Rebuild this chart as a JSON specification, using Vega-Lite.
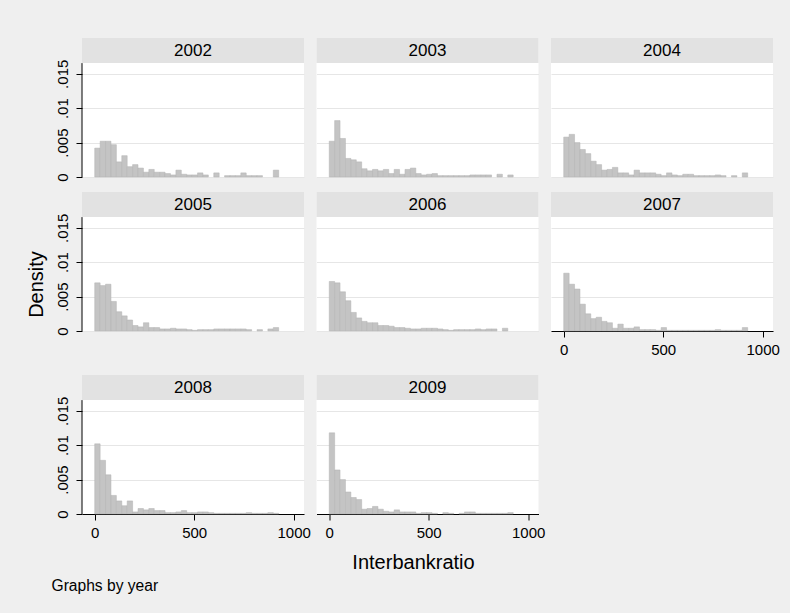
{
"$schema":"https://vega.github.io/schema/vega-lite/v6.json",
"background":"#efefef",
"padding":{"left":26,"top":38,"right":10,"bottom":19},
"config":{"font":"Liberation Sans","view":{"stroke":null,"fill":"white"},"axis":{"labelColor":"#000","tickColor":"#000","domainColor":"#000","titleColor":"#000","titleFontWeight":"normal","gridColor":"#e6e6e6","labelFlush":false}},
"datasets":{"hist":[
{"year":2002,"lo":0,"hi":27.2,"density":0.0042},{"year":2002,"lo":27.2,"hi":54.4,"density":0.0052},{"year":2002,"lo":54.4,"hi":81.6,"density":0.0052},{"year":2002,"lo":81.6,"hi":108.8,"density":0.0047},{"year":2002,"lo":108.8,"hi":136,"density":0.0022},{"year":2002,"lo":136,"hi":163.2,"density":0.0031},{"year":2002,"lo":163.2,"hi":190.4,"density":0.0015},{"year":2002,"lo":190.4,"hi":217.6,"density":0.0018},{"year":2002,"lo":217.6,"hi":244.8,"density":0.0013},{"year":2002,"lo":244.8,"hi":272,"density":0.0007},{"year":2002,"lo":272,"hi":299.2,"density":0.0011},{"year":2002,"lo":299.2,"hi":326.4,"density":0.0007},{"year":2002,"lo":326.4,"hi":353.6,"density":0.0007},{"year":2002,"lo":353.6,"hi":380.8,"density":0.0005},{"year":2002,"lo":380.8,"hi":408,"density":0.0003},{"year":2002,"lo":408,"hi":435.2,"density":0.0010},{"year":2002,"lo":435.2,"hi":462.4,"density":0.0004},{"year":2002,"lo":462.4,"hi":489.6,"density":0.0003},{"year":2002,"lo":489.6,"hi":516.8,"density":0.0003},{"year":2002,"lo":516.8,"hi":544,"density":0.0006},{"year":2002,"lo":544,"hi":571.2,"density":0.0003},{"year":2002,"lo":598.4,"hi":625.6,"density":0.0006},{"year":2002,"lo":652.8,"hi":680,"density":0.0002},{"year":2002,"lo":680,"hi":707.2,"density":0.0002},{"year":2002,"lo":707.2,"hi":734.4,"density":0.0002},{"year":2002,"lo":734.4,"hi":761.6,"density":0.0006},{"year":2002,"lo":761.6,"hi":788.8,"density":0.0002},{"year":2002,"lo":788.8,"hi":816,"density":0.0002},{"year":2002,"lo":816,"hi":843.2,"density":0.0002},{"year":2002,"lo":897.6,"hi":924.8,"density":0.0010},
{"year":2003,"lo":0,"hi":27.2,"density":0.0052},{"year":2003,"lo":27.2,"hi":54.4,"density":0.0082},{"year":2003,"lo":54.4,"hi":81.6,"density":0.0056},{"year":2003,"lo":81.6,"hi":108.8,"density":0.0027},{"year":2003,"lo":108.8,"hi":136,"density":0.0025},{"year":2003,"lo":136,"hi":163.2,"density":0.0022},{"year":2003,"lo":163.2,"hi":190.4,"density":0.0012},{"year":2003,"lo":190.4,"hi":217.6,"density":0.0009},{"year":2003,"lo":217.6,"hi":244.8,"density":0.0011},{"year":2003,"lo":244.8,"hi":272,"density":0.0009},{"year":2003,"lo":272,"hi":299.2,"density":0.0011},{"year":2003,"lo":299.2,"hi":326.4,"density":0.0005},{"year":2003,"lo":326.4,"hi":353.6,"density":0.0011},{"year":2003,"lo":353.6,"hi":380.8,"density":0.0004},{"year":2003,"lo":380.8,"hi":408,"density":0.0011},{"year":2003,"lo":408,"hi":435.2,"density":0.0013},{"year":2003,"lo":435.2,"hi":462.4,"density":0.0005},{"year":2003,"lo":462.4,"hi":489.6,"density":0.0003},{"year":2003,"lo":489.6,"hi":516.8,"density":0.0004},{"year":2003,"lo":516.8,"hi":544,"density":0.0005},{"year":2003,"lo":544,"hi":571.2,"density":0.0002},{"year":2003,"lo":571.2,"hi":598.4,"density":0.0002},{"year":2003,"lo":598.4,"hi":625.6,"density":0.0002},{"year":2003,"lo":625.6,"hi":652.8,"density":0.0002},{"year":2003,"lo":652.8,"hi":680,"density":0.0002},{"year":2003,"lo":680,"hi":707.2,"density":0.0002},{"year":2003,"lo":707.2,"hi":734.4,"density":0.0003},{"year":2003,"lo":734.4,"hi":761.6,"density":0.0003},{"year":2003,"lo":761.6,"hi":788.8,"density":0.0003},{"year":2003,"lo":788.8,"hi":816,"density":0.0003},{"year":2003,"lo":843.2,"hi":870.4,"density":0.0004},{"year":2003,"lo":897.6,"hi":924.8,"density":0.0003},
{"year":2004,"lo":0,"hi":27.2,"density":0.0058},{"year":2004,"lo":27.2,"hi":54.4,"density":0.0062},{"year":2004,"lo":54.4,"hi":81.6,"density":0.0050},{"year":2004,"lo":81.6,"hi":108.8,"density":0.0040},{"year":2004,"lo":108.8,"hi":136,"density":0.0034},{"year":2004,"lo":136,"hi":163.2,"density":0.0023},{"year":2004,"lo":163.2,"hi":190.4,"density":0.0018},{"year":2004,"lo":190.4,"hi":217.6,"density":0.0010},{"year":2004,"lo":217.6,"hi":244.8,"density":0.0011},{"year":2004,"lo":244.8,"hi":272,"density":0.0014},{"year":2004,"lo":272,"hi":299.2,"density":0.0006},{"year":2004,"lo":299.2,"hi":326.4,"density":0.0006},{"year":2004,"lo":326.4,"hi":353.6,"density":0.0003},{"year":2004,"lo":353.6,"hi":380.8,"density":0.0010},{"year":2004,"lo":380.8,"hi":408,"density":0.0006},{"year":2004,"lo":408,"hi":435.2,"density":0.0006},{"year":2004,"lo":435.2,"hi":462.4,"density":0.0006},{"year":2004,"lo":462.4,"hi":489.6,"density":0.0004},{"year":2004,"lo":489.6,"hi":516.8,"density":0.0002},{"year":2004,"lo":516.8,"hi":544,"density":0.0006},{"year":2004,"lo":544,"hi":571.2,"density":0.0003},{"year":2004,"lo":571.2,"hi":598.4,"density":0.0002},{"year":2004,"lo":598.4,"hi":625.6,"density":0.0004},{"year":2004,"lo":625.6,"hi":652.8,"density":0.0004},{"year":2004,"lo":652.8,"hi":680,"density":0.0002},{"year":2004,"lo":680,"hi":707.2,"density":0.0002},{"year":2004,"lo":707.2,"hi":734.4,"density":0.0002},{"year":2004,"lo":734.4,"hi":761.6,"density":0.0002},{"year":2004,"lo":761.6,"hi":788.8,"density":0.0003},{"year":2004,"lo":788.8,"hi":816,"density":0.0002},{"year":2004,"lo":843.2,"hi":870.4,"density":0.0002},{"year":2004,"lo":897.6,"hi":924.8,"density":0.0006},
{"year":2005,"lo":0,"hi":27.2,"density":0.0070},{"year":2005,"lo":27.2,"hi":54.4,"density":0.0066},{"year":2005,"lo":54.4,"hi":81.6,"density":0.0068},{"year":2005,"lo":81.6,"hi":108.8,"density":0.0043},{"year":2005,"lo":108.8,"hi":136,"density":0.0028},{"year":2005,"lo":136,"hi":163.2,"density":0.0022},{"year":2005,"lo":163.2,"hi":190.4,"density":0.0016},{"year":2005,"lo":190.4,"hi":217.6,"density":0.0008},{"year":2005,"lo":217.6,"hi":244.8,"density":0.0006},{"year":2005,"lo":244.8,"hi":272,"density":0.0012},{"year":2005,"lo":272,"hi":299.2,"density":0.0005},{"year":2005,"lo":299.2,"hi":326.4,"density":0.0005},{"year":2005,"lo":326.4,"hi":353.6,"density":0.0003},{"year":2005,"lo":353.6,"hi":380.8,"density":0.0003},{"year":2005,"lo":380.8,"hi":408,"density":0.0004},{"year":2005,"lo":408,"hi":435.2,"density":0.0003},{"year":2005,"lo":435.2,"hi":462.4,"density":0.0003},{"year":2005,"lo":462.4,"hi":489.6,"density":0.0002},{"year":2005,"lo":489.6,"hi":516.8,"density":0.0001},{"year":2005,"lo":516.8,"hi":544,"density":0.0002},{"year":2005,"lo":544,"hi":571.2,"density":0.0002},{"year":2005,"lo":571.2,"hi":598.4,"density":0.0002},{"year":2005,"lo":598.4,"hi":625.6,"density":0.0003},{"year":2005,"lo":625.6,"hi":652.8,"density":0.0003},{"year":2005,"lo":652.8,"hi":680,"density":0.0003},{"year":2005,"lo":680,"hi":707.2,"density":0.0003},{"year":2005,"lo":707.2,"hi":734.4,"density":0.0003},{"year":2005,"lo":734.4,"hi":761.6,"density":0.0003},{"year":2005,"lo":761.6,"hi":788.8,"density":0.0002},{"year":2005,"lo":816,"hi":843.2,"density":0.0002},{"year":2005,"lo":870.4,"hi":897.6,"density":0.0003},{"year":2005,"lo":897.6,"hi":924.8,"density":0.0005},
{"year":2006,"lo":0,"hi":27.2,"density":0.0072},{"year":2006,"lo":27.2,"hi":54.4,"density":0.0070},{"year":2006,"lo":54.4,"hi":81.6,"density":0.0057},{"year":2006,"lo":81.6,"hi":108.8,"density":0.0044},{"year":2006,"lo":108.8,"hi":136,"density":0.0027},{"year":2006,"lo":136,"hi":163.2,"density":0.0019},{"year":2006,"lo":163.2,"hi":190.4,"density":0.0014},{"year":2006,"lo":190.4,"hi":217.6,"density":0.0012},{"year":2006,"lo":217.6,"hi":244.8,"density":0.0012},{"year":2006,"lo":244.8,"hi":272,"density":0.0008},{"year":2006,"lo":272,"hi":299.2,"density":0.0008},{"year":2006,"lo":299.2,"hi":326.4,"density":0.0007},{"year":2006,"lo":326.4,"hi":353.6,"density":0.0005},{"year":2006,"lo":353.6,"hi":380.8,"density":0.0005},{"year":2006,"lo":380.8,"hi":408,"density":0.0004},{"year":2006,"lo":408,"hi":435.2,"density":0.0003},{"year":2006,"lo":435.2,"hi":462.4,"density":0.0003},{"year":2006,"lo":462.4,"hi":489.6,"density":0.0004},{"year":2006,"lo":489.6,"hi":516.8,"density":0.0004},{"year":2006,"lo":516.8,"hi":544,"density":0.0004},{"year":2006,"lo":544,"hi":571.2,"density":0.0003},{"year":2006,"lo":571.2,"hi":598.4,"density":0.0002},{"year":2006,"lo":598.4,"hi":625.6,"density":0.0001},{"year":2006,"lo":625.6,"hi":652.8,"density":0.0002},{"year":2006,"lo":652.8,"hi":680,"density":0.0002},{"year":2006,"lo":680,"hi":707.2,"density":0.0002},{"year":2006,"lo":707.2,"hi":734.4,"density":0.0002},{"year":2006,"lo":734.4,"hi":761.6,"density":0.0003},{"year":2006,"lo":761.6,"hi":788.8,"density":0.0002},{"year":2006,"lo":788.8,"hi":816,"density":0.0003},{"year":2006,"lo":816,"hi":843.2,"density":0.0003},{"year":2006,"lo":870.4,"hi":897.6,"density":0.0004},
{"year":2007,"lo":0,"hi":27.2,"density":0.0084},{"year":2007,"lo":27.2,"hi":54.4,"density":0.0068},{"year":2007,"lo":54.4,"hi":81.6,"density":0.0061},{"year":2007,"lo":81.6,"hi":108.8,"density":0.0039},{"year":2007,"lo":108.8,"hi":136,"density":0.0025},{"year":2007,"lo":136,"hi":163.2,"density":0.0018},{"year":2007,"lo":163.2,"hi":190.4,"density":0.0020},{"year":2007,"lo":190.4,"hi":217.6,"density":0.0014},{"year":2007,"lo":217.6,"hi":244.8,"density":0.0012},{"year":2007,"lo":244.8,"hi":272,"density":0.0004},{"year":2007,"lo":272,"hi":299.2,"density":0.0010},{"year":2007,"lo":299.2,"hi":326.4,"density":0.0004},{"year":2007,"lo":326.4,"hi":353.6,"density":0.0004},{"year":2007,"lo":353.6,"hi":380.8,"density":0.0006},{"year":2007,"lo":380.8,"hi":408,"density":0.0002},{"year":2007,"lo":408,"hi":435.2,"density":0.0002},{"year":2007,"lo":435.2,"hi":462.4,"density":0.0002},{"year":2007,"lo":462.4,"hi":489.6,"density":0.0001},{"year":2007,"lo":489.6,"hi":516.8,"density":0.0005},{"year":2007,"lo":516.8,"hi":544,"density":0.0001},{"year":2007,"lo":544,"hi":571.2,"density":0.0001},{"year":2007,"lo":571.2,"hi":598.4,"density":0.0001},{"year":2007,"lo":598.4,"hi":625.6,"density":0.0001},{"year":2007,"lo":625.6,"hi":652.8,"density":0.0001},{"year":2007,"lo":652.8,"hi":680,"density":0.0001},{"year":2007,"lo":680,"hi":707.2,"density":0.0001},{"year":2007,"lo":707.2,"hi":734.4,"density":0.0001},{"year":2007,"lo":734.4,"hi":761.6,"density":0.0001},{"year":2007,"lo":761.6,"hi":788.8,"density":0.0002},{"year":2007,"lo":788.8,"hi":816,"density":0.0001},{"year":2007,"lo":816,"hi":843.2,"density":0.0001},{"year":2007,"lo":843.2,"hi":870.4,"density":0.0001},{"year":2007,"lo":870.4,"hi":897.6,"density":0.0001},{"year":2007,"lo":897.6,"hi":924.8,"density":0.0005},
{"year":2008,"lo":0,"hi":27.2,"density":0.0102},{"year":2008,"lo":27.2,"hi":54.4,"density":0.0078},{"year":2008,"lo":54.4,"hi":81.6,"density":0.0057},{"year":2008,"lo":81.6,"hi":108.8,"density":0.0027},{"year":2008,"lo":108.8,"hi":136,"density":0.0019},{"year":2008,"lo":136,"hi":163.2,"density":0.0012},{"year":2008,"lo":163.2,"hi":190.4,"density":0.0019},{"year":2008,"lo":190.4,"hi":217.6,"density":0.0003},{"year":2008,"lo":217.6,"hi":244.8,"density":0.0008},{"year":2008,"lo":244.8,"hi":272,"density":0.0006},{"year":2008,"lo":272,"hi":299.2,"density":0.0008},{"year":2008,"lo":299.2,"hi":326.4,"density":0.0005},{"year":2008,"lo":326.4,"hi":353.6,"density":0.0005},{"year":2008,"lo":353.6,"hi":380.8,"density":0.0002},{"year":2008,"lo":380.8,"hi":408,"density":0.0002},{"year":2008,"lo":408,"hi":435.2,"density":0.0003},{"year":2008,"lo":435.2,"hi":462.4,"density":0.0005},{"year":2008,"lo":462.4,"hi":489.6,"density":0.0002},{"year":2008,"lo":489.6,"hi":516.8,"density":0.0002},{"year":2008,"lo":516.8,"hi":544,"density":0.0003},{"year":2008,"lo":544,"hi":571.2,"density":0.0003},{"year":2008,"lo":571.2,"hi":598.4,"density":0.0002},{"year":2008,"lo":598.4,"hi":625.6,"density":0.0001},{"year":2008,"lo":625.6,"hi":652.8,"density":0.0001},{"year":2008,"lo":652.8,"hi":680,"density":0.0001},{"year":2008,"lo":680,"hi":707.2,"density":0.0001},{"year":2008,"lo":707.2,"hi":734.4,"density":0.0001},{"year":2008,"lo":734.4,"hi":761.6,"density":0.0001},{"year":2008,"lo":761.6,"hi":788.8,"density":0.0002},{"year":2008,"lo":788.8,"hi":816,"density":0.0001},{"year":2008,"lo":816,"hi":843.2,"density":0.0001},{"year":2008,"lo":843.2,"hi":870.4,"density":0.0001},{"year":2008,"lo":870.4,"hi":897.6,"density":0.0002},{"year":2008,"lo":897.6,"hi":924.8,"density":0.0001},
{"year":2009,"lo":0,"hi":27.2,"density":0.0118},{"year":2009,"lo":27.2,"hi":54.4,"density":0.0064},{"year":2009,"lo":54.4,"hi":81.6,"density":0.0050},{"year":2009,"lo":81.6,"hi":108.8,"density":0.0032},{"year":2009,"lo":108.8,"hi":136,"density":0.0024},{"year":2009,"lo":136,"hi":163.2,"density":0.0021},{"year":2009,"lo":163.2,"hi":190.4,"density":0.0007},{"year":2009,"lo":190.4,"hi":217.6,"density":0.0008},{"year":2009,"lo":217.6,"hi":244.8,"density":0.0011},{"year":2009,"lo":244.8,"hi":272,"density":0.0007},{"year":2009,"lo":272,"hi":299.2,"density":0.0004},{"year":2009,"lo":299.2,"hi":326.4,"density":0.0003},{"year":2009,"lo":326.4,"hi":353.6,"density":0.0006},{"year":2009,"lo":353.6,"hi":380.8,"density":0.0003},{"year":2009,"lo":380.8,"hi":408,"density":0.0003},{"year":2009,"lo":408,"hi":435.2,"density":0.0003},{"year":2009,"lo":435.2,"hi":462.4,"density":0.0001},{"year":2009,"lo":462.4,"hi":489.6,"density":0.0002},{"year":2009,"lo":489.6,"hi":516.8,"density":0.0002},{"year":2009,"lo":516.8,"hi":544,"density":0.0001},{"year":2009,"lo":571.2,"hi":598.4,"density":0.0002},{"year":2009,"lo":598.4,"hi":625.6,"density":0.0001},{"year":2009,"lo":652.8,"hi":680,"density":0.0001},{"year":2009,"lo":680,"hi":707.2,"density":0.0003},{"year":2009,"lo":707.2,"hi":734.4,"density":0.0003},{"year":2009,"lo":734.4,"hi":761.6,"density":0.0001},{"year":2009,"lo":761.6,"hi":788.8,"density":0.0001},{"year":2009,"lo":788.8,"hi":816,"density":0.0001},{"year":2009,"lo":816,"hi":843.2,"density":0.0001},{"year":2009,"lo":843.2,"hi":870.4,"density":0.0001},{"year":2009,"lo":870.4,"hi":897.6,"density":0.0001},{"year":2009,"lo":897.6,"hi":924.8,"density":0.0002}
]},
"spacing":10,
"vconcat":[
{"hconcat":[
 {"width":222,"height":139,"resolve":{"axis":{"x":"independent","y":"independent"}},"layer":[
  {"data":{"name":"hist"},"transform":[{"filter":"datum.year === 2002"}],"mark":{"type":"rect","fill":"#c4c4c4","stroke":"#b2b2b2","strokeWidth":0.5},
   "encoding":{"x":{"field":"lo","type":"quantitative","scale":{"domain":[-64,1052],"nice":false,"zero":false},"axis":null},"x2":{"field":"hi"},
   "y":{"field":"density","type":"quantitative","scale":{"domain":[0,0.0202],"nice":false},"axis":{"values":[0,0.005,0.01,0.015],"grid":true,"domain":false,"tickSize":6,"labelAngle":-90,"labelFontSize":15,"labelPadding":6,"labelExpr":"datum.value == 0 ? '0' : datum.value < 0.007 ? '.005' : datum.value < 0.012 ? '.01' : '.015'","title":null}},"y2":{"datum":0}}},
  {"data":{"values":[{"year":"2002"}]},"mark":{"type":"rect","fill":"#e2e2e2"},"encoding":{"x":{"datum":-64,"type":"quantitative","axis":null},"x2":{"datum":1052},"y":{"datum":0.01655,"type":"quantitative","axis":null},"y2":{"datum":0.0202}}},
  {"data":{"values":[{"year":"2002"}]},"mark":{"type":"text","fontSize":17,"baseline":"middle","color":"#000"},"encoding":{"x":{"datum":494,"type":"quantitative","axis":null},"y":{"datum":0.01838,"type":"quantitative","axis":null},"text":{"field":"year"}}},
  {"data":{"values":[{"year":"2002"}]},"mark":{"type":"rule","color":"#000"},"encoding":{"x":{"datum":-64,"type":"quantitative","axis":null},"y":{"datum":0,"type":"quantitative","axis":null},"y2":{"datum":0.01655}}}
 ]},
 {"width":222,"height":139,"resolve":{"axis":{"x":"independent","y":"independent"}},"layer":[
  {"data":{"name":"hist"},"transform":[{"filter":"datum.year === 2003"}],"mark":{"type":"rect","fill":"#c4c4c4","stroke":"#b2b2b2","strokeWidth":0.5},
   "encoding":{"x":{"field":"lo","type":"quantitative","scale":{"domain":[-64,1052],"nice":false,"zero":false},"axis":null},"x2":{"field":"hi"},
   "y":{"field":"density","type":"quantitative","scale":{"domain":[0,0.0202],"nice":false},"axis":{"values":[0,0.005,0.01,0.015],"grid":true,"domain":false,"ticks":false,"labels":false,"title":null}},"y2":{"datum":0}}},
  {"data":{"values":[{"year":"2003"}]},"mark":{"type":"rect","fill":"#e2e2e2"},"encoding":{"x":{"datum":-64,"type":"quantitative","axis":null},"x2":{"datum":1052},"y":{"datum":0.01655,"type":"quantitative","axis":null},"y2":{"datum":0.0202}}},
  {"data":{"values":[{"year":"2003"}]},"mark":{"type":"text","fontSize":17,"baseline":"middle","color":"#000"},"encoding":{"x":{"datum":494,"type":"quantitative","axis":null},"y":{"datum":0.01838,"type":"quantitative","axis":null},"text":{"field":"year"}}}
 ]},
 {"width":222,"height":139,"resolve":{"axis":{"x":"independent","y":"independent"}},"layer":[
  {"data":{"name":"hist"},"transform":[{"filter":"datum.year === 2004"}],"mark":{"type":"rect","fill":"#c4c4c4","stroke":"#b2b2b2","strokeWidth":0.5},
   "encoding":{"x":{"field":"lo","type":"quantitative","scale":{"domain":[-64,1052],"nice":false,"zero":false},"axis":null},"x2":{"field":"hi"},
   "y":{"field":"density","type":"quantitative","scale":{"domain":[0,0.0202],"nice":false},"axis":{"values":[0,0.005,0.01,0.015],"grid":true,"domain":false,"ticks":false,"labels":false,"title":null}},"y2":{"datum":0}}},
  {"data":{"values":[{"year":"2004"}]},"mark":{"type":"rect","fill":"#e2e2e2"},"encoding":{"x":{"datum":-64,"type":"quantitative","axis":null},"x2":{"datum":1052},"y":{"datum":0.01655,"type":"quantitative","axis":null},"y2":{"datum":0.0202}}},
  {"data":{"values":[{"year":"2004"}]},"mark":{"type":"text","fontSize":17,"baseline":"middle","color":"#000"},"encoding":{"x":{"datum":494,"type":"quantitative","axis":null},"y":{"datum":0.01838,"type":"quantitative","axis":null},"text":{"field":"year"}}}
 ]}
],"spacing":12.5,"bounds":"flush"},
{"hconcat":[
 {"width":222,"height":139,"resolve":{"axis":{"x":"independent","y":"independent"}},"layer":[
  {"data":{"name":"hist"},"transform":[{"filter":"datum.year === 2005"}],"mark":{"type":"rect","fill":"#c4c4c4","stroke":"#b2b2b2","strokeWidth":0.5},
   "encoding":{"x":{"field":"lo","type":"quantitative","scale":{"domain":[-64,1052],"nice":false,"zero":false},"axis":null},"x2":{"field":"hi"},
   "y":{"field":"density","type":"quantitative","scale":{"domain":[0,0.0202],"nice":false},"axis":{"values":[0,0.005,0.01,0.015],"grid":true,"domain":false,"tickSize":6,"labelAngle":-90,"labelFontSize":15,"labelPadding":6,"labelExpr":"datum.value == 0 ? '0' : datum.value < 0.007 ? '.005' : datum.value < 0.012 ? '.01' : '.015'","title":"Density","titleFontSize":20,"titleX":-40,"titleY":92,"titleAngle":-90,"titleAlign":"center","titleBaseline":"alphabetic"}},"y2":{"datum":0}}},
  {"data":{"values":[{"year":"2005"}]},"mark":{"type":"rect","fill":"#e2e2e2"},"encoding":{"x":{"datum":-64,"type":"quantitative","axis":null},"x2":{"datum":1052},"y":{"datum":0.01655,"type":"quantitative","axis":null},"y2":{"datum":0.0202}}},
  {"data":{"values":[{"year":"2005"}]},"mark":{"type":"text","fontSize":17,"baseline":"middle","color":"#000"},"encoding":{"x":{"datum":494,"type":"quantitative","axis":null},"y":{"datum":0.01838,"type":"quantitative","axis":null},"text":{"field":"year"}}},
  {"data":{"values":[{"year":"2005"}]},"mark":{"type":"rule","color":"#000"},"encoding":{"x":{"datum":-64,"type":"quantitative","axis":null},"y":{"datum":0,"type":"quantitative","axis":null},"y2":{"datum":0.01655}}}
 ]},
 {"width":222,"height":139,"resolve":{"axis":{"x":"independent","y":"independent"}},"layer":[
  {"data":{"name":"hist"},"transform":[{"filter":"datum.year === 2006"}],"mark":{"type":"rect","fill":"#c4c4c4","stroke":"#b2b2b2","strokeWidth":0.5},
   "encoding":{"x":{"field":"lo","type":"quantitative","scale":{"domain":[-64,1052],"nice":false,"zero":false},"axis":null},"x2":{"field":"hi"},
   "y":{"field":"density","type":"quantitative","scale":{"domain":[0,0.0202],"nice":false},"axis":{"values":[0,0.005,0.01,0.015],"grid":true,"domain":false,"ticks":false,"labels":false,"title":null}},"y2":{"datum":0}}},
  {"data":{"values":[{"year":"2006"}]},"mark":{"type":"rect","fill":"#e2e2e2"},"encoding":{"x":{"datum":-64,"type":"quantitative","axis":null},"x2":{"datum":1052},"y":{"datum":0.01655,"type":"quantitative","axis":null},"y2":{"datum":0.0202}}},
  {"data":{"values":[{"year":"2006"}]},"mark":{"type":"text","fontSize":17,"baseline":"middle","color":"#000"},"encoding":{"x":{"datum":494,"type":"quantitative","axis":null},"y":{"datum":0.01838,"type":"quantitative","axis":null},"text":{"field":"year"}}}
 ]},
 {"width":222,"height":139,"resolve":{"axis":{"x":"independent","y":"independent"}},"layer":[
  {"data":{"name":"hist"},"transform":[{"filter":"datum.year === 2007"}],"mark":{"type":"rect","fill":"#c4c4c4","stroke":"#b2b2b2","strokeWidth":0.5},
   "encoding":{"x":{"field":"lo","type":"quantitative","scale":{"domain":[-64,1052],"nice":false,"zero":false},"axis":{"values":[0,500,1000],"format":"d","grid":false,"tickSize":6,"labelFontSize":15,"labelPadding":5,"labelOverlap":false,"title":" ","titleFontSize":6,"titlePadding":2}},"x2":{"field":"hi"},
   "y":{"field":"density","type":"quantitative","scale":{"domain":[0,0.0202],"nice":false},"axis":{"values":[0,0.005,0.01,0.015],"grid":true,"domain":false,"ticks":false,"labels":false,"title":null}},"y2":{"datum":0}}},
  {"data":{"values":[{"year":"2007"}]},"mark":{"type":"rect","fill":"#e2e2e2"},"encoding":{"x":{"datum":-64,"type":"quantitative","axis":null},"x2":{"datum":1052},"y":{"datum":0.01655,"type":"quantitative","axis":null},"y2":{"datum":0.0202}}},
  {"data":{"values":[{"year":"2007"}]},"mark":{"type":"text","fontSize":17,"baseline":"middle","color":"#000"},"encoding":{"x":{"datum":494,"type":"quantitative","axis":null},"y":{"datum":0.01838,"type":"quantitative","axis":null},"text":{"field":"year"}}}
 ]}
],"spacing":12.5,"bounds":"flush"},
{"hconcat":[
 {"width":222,"height":139,"resolve":{"axis":{"x":"independent","y":"independent"}},"layer":[
  {"data":{"name":"hist"},"transform":[{"filter":"datum.year === 2008"}],"mark":{"type":"rect","fill":"#c4c4c4","stroke":"#b2b2b2","strokeWidth":0.5},
   "encoding":{"x":{"field":"lo","type":"quantitative","scale":{"domain":[-64,1052],"nice":false,"zero":false},"axis":{"values":[0,500,1000],"format":"d","grid":false,"tickSize":6,"labelFontSize":15,"labelPadding":5,"labelOverlap":false,"title":"Graphs by year","titleFontSize":15.6,"titleX":-31,"titleY":76,"titleAlign":"left","titleBaseline":"alphabetic"}},"x2":{"field":"hi"},
   "y":{"field":"density","type":"quantitative","scale":{"domain":[0,0.0202],"nice":false},"axis":{"values":[0,0.005,0.01,0.015],"grid":true,"domain":false,"tickSize":6,"labelAngle":-90,"labelFontSize":15,"labelPadding":6,"labelExpr":"datum.value == 0 ? '0' : datum.value < 0.007 ? '.005' : datum.value < 0.012 ? '.01' : '.015'","title":null}},"y2":{"datum":0}}},
  {"data":{"values":[{"year":"2008"}]},"mark":{"type":"rect","fill":"#e2e2e2"},"encoding":{"x":{"datum":-64,"type":"quantitative","axis":null},"x2":{"datum":1052},"y":{"datum":0.01655,"type":"quantitative","axis":null},"y2":{"datum":0.0202}}},
  {"data":{"values":[{"year":"2008"}]},"mark":{"type":"text","fontSize":17,"baseline":"middle","color":"#000"},"encoding":{"x":{"datum":494,"type":"quantitative","axis":null},"y":{"datum":0.01838,"type":"quantitative","axis":null},"text":{"field":"year"}}},
  {"data":{"values":[{"year":"2008"}]},"mark":{"type":"rule","color":"#000"},"encoding":{"x":{"datum":-64,"type":"quantitative","axis":null},"y":{"datum":0,"type":"quantitative","axis":null},"y2":{"datum":0.01655}}}
 ]},
 {"width":222,"height":139,"resolve":{"axis":{"x":"independent","y":"independent"}},"layer":[
  {"data":{"name":"hist"},"transform":[{"filter":"datum.year === 2009"}],"mark":{"type":"rect","fill":"#c4c4c4","stroke":"#b2b2b2","strokeWidth":0.5},
   "encoding":{"x":{"field":"lo","type":"quantitative","scale":{"domain":[-64,1052],"nice":false,"zero":false},"axis":{"values":[0,500,1000],"format":"d","grid":false,"tickSize":6,"labelFontSize":15,"labelPadding":5,"labelOverlap":false,"title":"Interbankratio","titleFontSize":20,"titleX":96.5,"titleY":54,"titleAlign":"center","titleBaseline":"alphabetic"}},"x2":{"field":"hi"},
   "y":{"field":"density","type":"quantitative","scale":{"domain":[0,0.0202],"nice":false},"axis":{"values":[0,0.005,0.01,0.015],"grid":true,"domain":false,"ticks":false,"labels":false,"title":null}},"y2":{"datum":0}}},
  {"data":{"values":[{"year":"2009"}]},"mark":{"type":"rect","fill":"#e2e2e2"},"encoding":{"x":{"datum":-64,"type":"quantitative","axis":null},"x2":{"datum":1052},"y":{"datum":0.01655,"type":"quantitative","axis":null},"y2":{"datum":0.0202}}},
  {"data":{"values":[{"year":"2009"}]},"mark":{"type":"text","fontSize":17,"baseline":"middle","color":"#000"},"encoding":{"x":{"datum":494,"type":"quantitative","axis":null},"y":{"datum":0.01838,"type":"quantitative","axis":null},"text":{"field":"year"}}}
 ]}
],"spacing":12.5,"bounds":"flush"}
]
}
